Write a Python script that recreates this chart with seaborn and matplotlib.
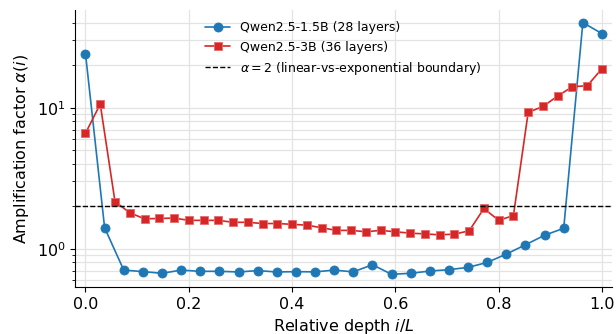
import numpy as np
import pandas as pd
import matplotlib
matplotlib.use("Agg")
import matplotlib.pyplot as plt
import seaborn as sns

# Amplification factor per layer
alpha_15b = [24.2, 1.41, 0.706, 0.689, 0.67, 0.706, 0.692, 0.692, 0.685, 0.70,
             0.685, 0.688, 0.686, 0.706, 0.686, 0.771, 0.659, 0.67, 0.695, 0.711,
             0.738, 0.80, 0.917, 1.067, 1.247, 1.397, 40.1, 33.5]
alpha_3b = [6.59, 10.6, 2.16, 1.80, 1.63, 1.64, 1.65, 1.59, 1.59, 1.59,
            1.54, 1.54, 1.51, 1.51, 1.49, 1.47, 1.41, 1.35, 1.35, 1.32,
            1.35, 1.32, 1.29, 1.275, 1.255, 1.27, 1.34, 1.93, 1.59, 1.72,
            9.27, 10.2, 12.1, 14.1, 14.3, 18.9]
boundary = 2

label_15b = "Qwen2.5-1.5B (28 layers)"
label_3b = "Qwen2.5-3B (36 layers)"
label_boundary = r"$\alpha = 2$ (linear-vs-exponential boundary)"

df_15b = pd.DataFrame({"depth": np.arange(len(alpha_15b)) / (len(alpha_15b) - 1),
                       "alpha": alpha_15b})
df_3b = pd.DataFrame({"depth": np.arange(len(alpha_3b)) / (len(alpha_3b) - 1),
                      "alpha": alpha_3b})

sns.set_style("ticks")
plt.rcParams["font.family"] = ["DejaVu Sans"]
for key in ["text.color", "axes.labelcolor", "xtick.color", "ytick.color", "axes.edgecolor"]:
    plt.rcParams[key] = "black"

fig, ax = plt.subplots(figsize=(6.16, 3.34), dpi=100)
fig.subplots_adjust(left=0.122, right=0.994, bottom=0.141, top=0.97)

blue, red = "#1f77b4", "#d62728"
sns.lineplot(data=df_15b, x="depth", y="alpha", ax=ax, color=blue,
             marker="o", markersize=6.5, markeredgecolor=blue, markeredgewidth=0.6,
             linewidth=1.2, label=label_15b)
sns.lineplot(data=df_3b, x="depth", y="alpha", ax=ax, color=red,
             marker="s", markersize=6, markeredgecolor="#e86a6b", markeredgewidth=0.6,
             linewidth=1.2, label=label_3b)
ax.axhline(boundary, color="black", linestyle="--", linewidth=1.0,
           label=label_boundary)

ax.set_yscale("log")
ax.set_xlim(-0.02, 1.02)
ax.grid(True, which="both", color="#e3e3e3", linewidth=0.9)
ax.set_axisbelow(True)
ax.set_xlabel("Relative depth $i/L$", fontsize=11.5)
ax.set_ylabel(r"Amplification factor $\alpha(i)$", fontsize=11.5)
ax.tick_params(labelsize=11.5)
ax.legend(loc="upper center", frameon=False, fontsize=9)
sns.despine(ax=ax)

fig.savefig("out.png", dpi=100)
